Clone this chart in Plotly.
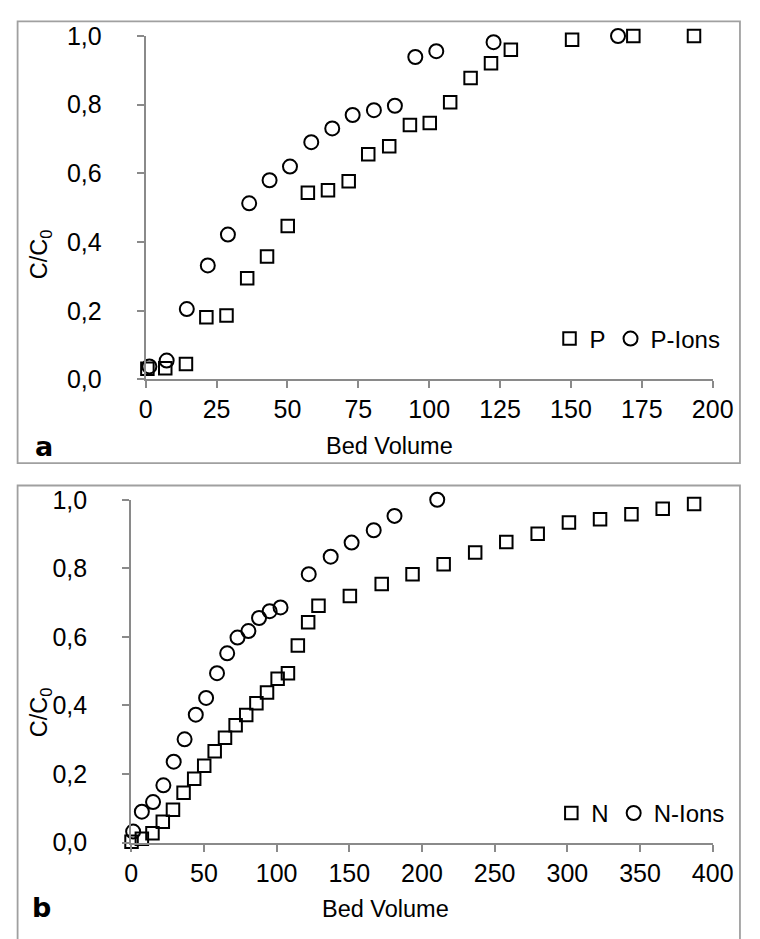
import plotly.graph_objects as go

# Breakthrough curves: phosphorus (panel a) and nitrogen (panel b)
p_bv = [0.6, 6.9, 14.2, 21.4, 28.5, 35.8, 42.8, 50.1, 57.2, 64.3, 71.6, 78.5, 85.9,
        93.2, 100.2, 107.4, 114.6, 121.8, 128.8, 150.4, 172.0, 193.4]
p_c = [0.031, 0.033, 0.045, 0.181, 0.186, 0.295, 0.358, 0.447, 0.544, 0.551, 0.577,
       0.656, 0.679, 0.741, 0.747, 0.807, 0.878, 0.921, 0.960, 0.989, 1.0, 1.0]

pions_bv = [1.3, 7.4, 14.5, 21.9, 29.0, 36.5, 43.7, 50.9, 58.4, 65.8, 73.0, 80.5,
            87.9, 95.1, 102.5, 122.7, 166.6]
pions_c = [0.038, 0.055, 0.205, 0.332, 0.422, 0.513, 0.580, 0.620, 0.691, 0.731,
           0.770, 0.784, 0.797, 0.939, 0.956, 0.982, 1.0]

n_bv = [0.2, 7.3, 14.6, 21.7, 28.7, 36.0, 43.3, 50.2, 57.4, 64.5, 71.8, 79.1, 86.1,
        93.4, 100.7, 107.8, 114.6, 121.7, 128.8, 150.4, 172.3, 193.5, 214.9, 236.6,
        258.0, 279.6, 301.1, 322.5, 344.1, 365.6, 387.2]
n_c = [0.002, 0.011, 0.027, 0.061, 0.096, 0.145, 0.186, 0.224, 0.266, 0.306, 0.342,
       0.372, 0.406, 0.438, 0.478, 0.494, 0.575, 0.643, 0.691, 0.719, 0.754, 0.783,
       0.812, 0.846, 0.877, 0.901, 0.934, 0.943, 0.958, 0.974, 0.988]

nions_bv = [1.3, 7.3, 15.0, 22.1, 29.2, 36.7, 44.4, 51.5, 59.0, 66.0, 73.1, 80.6,
            87.9, 95.2, 102.7, 122.1, 137.2, 151.6, 166.8, 181.1, 210.5]
nions_c = [0.032, 0.090, 0.118, 0.167, 0.236, 0.301, 0.373, 0.422, 0.494, 0.552,
           0.598, 0.617, 0.655, 0.675, 0.686, 0.783, 0.834, 0.875, 0.911, 0.953, 1.0]

y_ticks = [0.0, 0.2, 0.4, 0.6, 0.8, 1.0]
xa_ticks = [0, 25, 50, 75, 100, 125, 150, 175, 200]
xb_ticks = [0, 50, 100, 150, 200, 250, 300, 350, 400]

W, H = 760, 939
FONT = "Liberation Sans"
AXIS_GRAY = "#8a8a8a"


def px_x(px):
    return px / W


def px_y(py):
    return 1 - py / H


def marker(symbol, size):
    return dict(symbol=symbol, size=size, color="rgba(0,0,0,0)",
                line=dict(color="black", width=2))


fig = go.Figure()

fig.add_trace(go.Scatter(x=p_bv, y=p_c, mode="markers", name="P",
                         marker=marker("square", 12.5), xaxis="x", yaxis="y",
                         cliponaxis=False, legend="legend"))
fig.add_trace(go.Scatter(x=pions_bv, y=pions_c, mode="markers", name="P-Ions",
                         marker=marker("circle", 14), xaxis="x", yaxis="y",
                         cliponaxis=False, legend="legend"))
fig.add_trace(go.Scatter(x=n_bv, y=n_c, mode="markers", name="N",
                         marker=marker("square", 12.5), xaxis="x2", yaxis="y2",
                         cliponaxis=False, legend="legend2"))
fig.add_trace(go.Scatter(x=nions_bv, y=nions_c, mode="markers", name="N-Ions",
                         marker=marker("circle", 14), xaxis="x2", yaxis="y2",
                         cliponaxis=False, legend="legend2"))

tick_font = dict(family=FONT, size=25, color="black")

common_axis = dict(showgrid=False, zeroline=False, showline=True,
                   linecolor=AXIS_GRAY, linewidth=2, ticks="outside",
                   ticklen=7, tickwidth=2, tickcolor=AXIS_GRAY,
                   tickfont=tick_font, fixedrange=True)

fig.update_layout(
    width=W, height=H,
    margin=dict(l=0, r=0, t=0, b=0),
    paper_bgcolor="white", plot_bgcolor="white",
    separators=", ",
    font=dict(family=FONT, color="black"),
    xaxis=dict(common_axis, domain=[px_x(144), px_x(732.7)], range=[0, 200],
               tickvals=xa_ticks, anchor="y", ticklabelstandoff=0),
    yaxis=dict(common_axis, domain=[px_y(376.7), px_y(22.7)], range=[0, 1],
               tickvals=y_ticks, tickformat=".1f", anchor="x",
               ticklabelstandoff=30),
    xaxis2=dict(common_axis, domain=[px_x(129), px_x(732.7)], range=[0, 400],
                tickvals=xb_ticks, anchor="y2", ticklabelstandoff=0),
    yaxis2=dict(common_axis, domain=[px_y(854), px_y(500.7)], range=[0, 1],
                tickvals=y_ticks, tickformat=".1f", anchor="x2",
                ticklabelstandoff=30),
    legend=dict(orientation="h", x=px_x(746), xanchor="right",
                y=px_y(335), yanchor="middle", bgcolor="rgba(0,0,0,0)",
                font=dict(family=FONT, size=24, color="black"),
                itemwidth=30, traceorder="normal"),
    legend2=dict(orientation="h", x=px_x(751), xanchor="right",
                 y=px_y(824), yanchor="middle", bgcolor="rgba(0,0,0,0)",
                 font=dict(family=FONT, size=24, color="black"),
                 itemwidth=30, traceorder="normal"),
    showlegend=True,
)

# Panel frames
frame = dict(type="rect", xref="paper", yref="paper",
             line=dict(color="#a0a0a0", width=1.8), fillcolor="rgba(0,0,0,0)",
             layer="below")
fig.add_shape(frame, x0=px_x(11), x1=px_x(761), y0=px_y(463), y1=px_y(7.5))
fig.add_shape(frame, x0=px_x(11), x1=px_x(761), y0=px_y(960), y1=px_y(486))

title_font = dict(family=FONT, size=23.5, color="black")
annotations = [
    dict(text="C/C<sub>0</sub>", x=px_x(35), y=px_y(248), textangle=-90),
    dict(text="Bed Volume", x=px_x(397), y=px_y(445)),
    dict(text="C/C<sub>0</sub>", x=px_x(35), y=px_y(720), textangle=-90),
    dict(text="Bed Volume", x=px_x(392.5), y=px_y(922)),
]
for a in annotations:
    fig.add_annotation(xref="paper", yref="paper", showarrow=False,
                       xanchor="center", yanchor="middle", font=title_font, **a)

panel_font = dict(family="DejaVu Sans", size=27, color="black")
fig.add_annotation(text="<b>a</b>", xref="paper", yref="paper", showarrow=False,
                   x=px_x(38), y=px_y(446), xanchor="center", yanchor="middle",
                   font=panel_font)
fig.add_annotation(text="<b>b</b>", xref="paper", yref="paper", showarrow=False,
                   x=px_x(36), y=px_y(921), xanchor="center", yanchor="middle",
                   font=panel_font)

fig.write_html("out.html")
